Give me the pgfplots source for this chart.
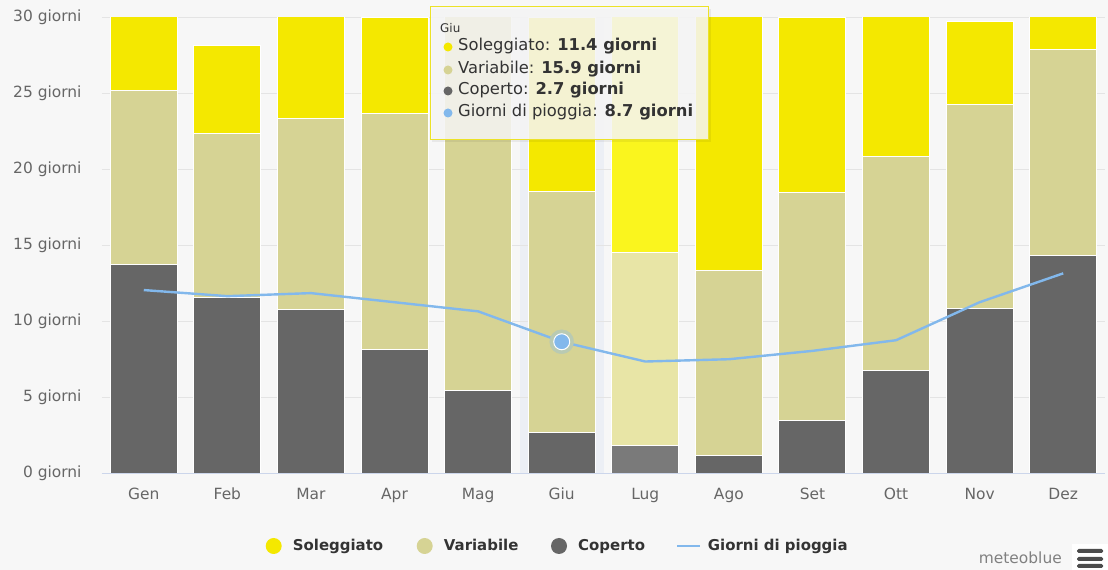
\documentclass[border=0pt]{standalone}
\usepackage{pgfplots}
\pgfplotsset{compat=1.18}
\usepackage{fontspec}
\setmainfont{DejaVu Sans}
\definecolor{sun}{RGB}{244,232,0}
\definecolor{var}{RGB}{214,211,148}
\definecolor{cov}{RGB}{102,102,102}
\definecolor{sunL}{RGB}{250,245,30}
\definecolor{varL}{RGB}{232,229,166}
\definecolor{covL}{RGB}{122,122,122}
\definecolor{rain}{RGB}{130,184,236}
\definecolor{bgc}{RGB}{247,247,247}
\definecolor{gridc}{RGB}{228,228,228}
\definecolor{axisc}{RGB}{204,214,235}
\definecolor{bandc}{RGB}{236,239,245}
\definecolor{tickc}{RGB}{102,102,102}
\definecolor{txt}{RGB}{51,51,51}
\definecolor{ttborder}{RGB}{236,226,40}

% month  coperto variabile soleggiato (Lug drawn separately)
\pgfplotstableread{
x cov var sun
0 13.8 11.4 5.8
1 11.6 10.8 5.8
2 10.8 12.6 7.6
3 8.2 15.5 6.3
4 5.5 25.0 0.5
5 2.7 15.9 11.4
7 1.2 12.2 17.6
8 3.5 15.0 11.5
9 6.8 14.1 10.1
10 10.9 13.4 5.5
11 14.4 13.5 3.1
}\bars
\pgfplotstableread{
x cov var sun
6 1.9 12.7 16.4
}\lug
\pgfplotstableread{
x rain
0 12.1
1 11.7
2 11.9
3 11.3
4 10.7
5 8.7
6 7.4
7 7.55
8 8.1
9 8.8
10 11.3
11 13.2
}\rainT

\begin{document}
\begin{tikzpicture}[x=1bp,y=1bp]
\useasboundingbox (-102,-96) rectangle (1006,474);
\fill[bgc] (-102,-96) rectangle (1006,474);
\pgfplotsset{base/.style={at={(0,0)}, anchor=south west, scale only axis,
  width=1003bp, height=456bp, xmin=-0.5, xmax=11.5, ymin=0, ymax=30}}

\begin{axis}[base, hide axis]
\fill[bandc] (axis cs:4.5,0) rectangle (axis cs:5.5,30);
\end{axis}

\begin{axis}[base, ybar stacked, bar width=67bp,
  axis line style={draw=none},
  major tick length=0pt,
  ymajorgrids, grid style={gridc, line width=1bp},
  xtick={0,...,11},
  xticklabels={Gen,Feb,Mar,Apr,Mag,Giu,Lug,Ago,Set,Ott,Nov,Dez},
  ytick={0,5,...,30},
  yticklabels={0 giorni,5 giorni,10 giorni,15 giorni,20 giorni,25 giorni,30 giorni},
  tick label style={font=\fontsize{15.5}{18}\selectfont, text=tickc, text height=11.5bp, text depth=3.5bp},
  xticklabel style={yshift=-10bp},
  yticklabel style={xshift=-17bp},
]
\addplot[fill=cov, draw=white, line width=1bp] table[x=x,y=cov]{\bars};
\addplot[fill=var, draw=white, line width=1bp] table[x=x,y=var]{\bars};
\addplot[fill=sun, draw=white, line width=1bp] table[x=x,y=sun]{\bars};
\end{axis}

\begin{axis}[base, hide axis, ybar stacked, bar width=67bp]
\addplot[fill=covL, draw=white, line width=1bp] table[x=x,y=cov]{\lug};
\addplot[fill=varL, draw=white, line width=1bp] table[x=x,y=var]{\lug};
\addplot[fill=sunL, draw=white, line width=1bp] table[x=x,y=sun]{\lug};
\end{axis}

\begin{axis}[base, hide axis]
\draw[axisc, line width=1bp] (axis cs:-0.5,0) -- (axis cs:11.5,0);
\addplot[rain, line width=2.4bp, mark=none] table[x=x,y=rain]{\rainT};
\addplot[color=rain!35!var, only marks, mark=*, mark size=12bp, mark options={draw=rain!35!var, fill=rain!35!var}] coordinates {(5,8.7)};
\addplot[color=white, only marks, mark=*, mark size=8bp, mark options={draw=white, line width=1bp, fill=rain}] coordinates {(5,8.7)};
\end{axis}

% tooltip
\fill[black, opacity=0.06] (330,332) rectangle (609,465);
\fill[white!97!black, fill opacity=0.85, draw=ttborder, line width=1bp] (328,334) rectangle (606,467);
\node[anchor=west, inner sep=0pt, text=txt, font=\fontsize{12}{14}\selectfont] at (338,446) {Giu};
\fill[sun] (346,427) circle (4.5);
\fill[var] (346,404) circle (4.5);
\fill[cov] (346,383) circle (4.5);
\fill[rain] (346,361) circle (4.5);
\begin{scope}[every node/.style={anchor=west, inner sep=0pt, text=txt, text height=12bp, text depth=4bp, font=\fontsize{16.4}{19}\selectfont}]
\node at (356,427) {Soleggiato: \textbf{11.4 giorni}};
\node at (356,404) {Variabile: \textbf{15.9 giorni}};
\node at (356,383) {Coperto: \textbf{2.7 giorni}};
\node at (356,361) {Giorni di pioggia: \textbf{8.7 giorni}};
\end{scope}

% legend
\fill[sun] (171.7,-72) circle (8);
\fill[var] (322.7,-72) circle (8);
\fill[cov] (457,-72) circle (8);
\draw[rain, line width=2bp] (575,-72) -- (598,-72);
\begin{scope}[every node/.style={anchor=west, inner sep=0pt, text=txt, text height=11.5bp, text depth=3.5bp, font=\fontsize{15}{18}\selectfont\bfseries}]
\node at (190.7,-73) {Soleggiato};
\node at (341.7,-73) {Variabile};
\node at (476,-73) {Coperto};
\node at (605.7,-73) {Giorni di pioggia};
\end{scope}

% credits
\node[anchor=east, inner sep=0pt, text=black!50, font=\fontsize{15.5}{18}\selectfont] at (960,-84) {meteoblue};
\fill[white] (970,-96) rectangle (1006,-70);
\foreach \yy in {-77,-85,-92} {\fill[black!70, rounded corners=1.5bp] (975,\yy-2) rectangle (1001,\yy+2);}
\end{tikzpicture}
\end{document}
